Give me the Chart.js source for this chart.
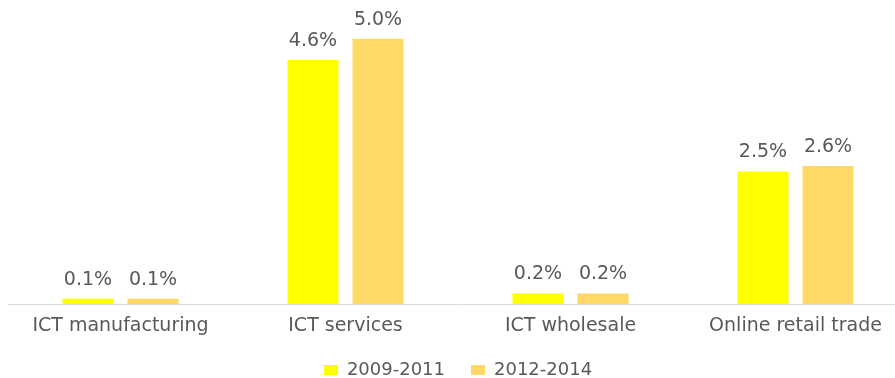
<!DOCTYPE html>
<html>
<head>
<meta charset="utf-8">
<script src="https://cdn.jsdelivr.net/npm/chart.js@4"></script>
<style>
  html, body { margin: 0; padding: 0; background: #fff; overflow: hidden; }
  #wrap { width: 910px; height: 378px; position: relative; }
</style>
</head>
<body>
<div id="wrap"><canvas id="chart"></canvas></div>
<script>
// Growth contribution by sector, two periods
const categories = ['ICT manufacturing', 'ICT services', 'ICT wholesale', 'Online retail trade'];
const period1Label = '2009-2011';
const period2Label = '2012-2014';
const period1Values = [0.1, 4.6, 0.2, 2.5];
const period2Values = [0.1, 5.0, 0.2, 2.6];

const textColor = '#595959';
const fontFamily = "'DejaVu Sans', sans-serif";

// draws the value above each bar
const valueLabels = {
  id: 'valueLabels',
  afterDatasetsDraw(chart) {
    const ctx = chart.ctx;
    ctx.save();
    ctx.fillStyle = textColor;
    ctx.font = '19px ' + fontFamily;
    ctx.textAlign = 'center';
    ctx.textBaseline = 'alphabetic';
    chart.data.datasets.forEach((ds, i) => {
      chart.getDatasetMeta(i).data.forEach((bar, j) => {
        ctx.fillText(ds.data[j].toFixed(1) + '%', bar.x, bar.y - 14);
      });
    });
    ctx.restore();
  }
};

new Chart(document.getElementById('chart').getContext('2d'), {
  type: 'bar',
  data: {
    labels: categories,
    datasets: [{
      label: period1Label,
      data: period1Values,
      backgroundColor: '#ffff00'
    }, {
      label: period2Label,
      data: period2Values,
      backgroundColor: '#ffd966'
    }]
  },
  options: {
    responsive: true,
    maintainAspectRatio: false,
    animation: false,
    categoryPercentage: 0.578,
    barPercentage: 0.785,
    layout: { padding: { left: 8, right: 2, top: 7, bottom: 0 } },
    plugins: {
      legend: {
        position: 'bottom',
        maxHeight: 43,
        labels: {
          color: textColor,
          boxWidth: 14,
          boxHeight: 10,
          padding: 26,
          font: { family: fontFamily, size: 18 }
        }
      },
      tooltip: { enabled: false }
    },
    scales: {
      x: {
        grid: { display: false, drawTicks: false },
        border: { color: '#d9d9d9', width: 1 },
        ticks: {
          color: textColor,
          padding: 13,
          font: { family: fontFamily, size: 19, lineHeight: 1 }
        },
        afterFit(scale) {
          scale.height = 31;
        }
      },
      y: {
        display: false,
        min: 0,
        max: 5.6
      }
    }
  },
  plugins: [valueLabels]
});
</script>
</body>
</html>
